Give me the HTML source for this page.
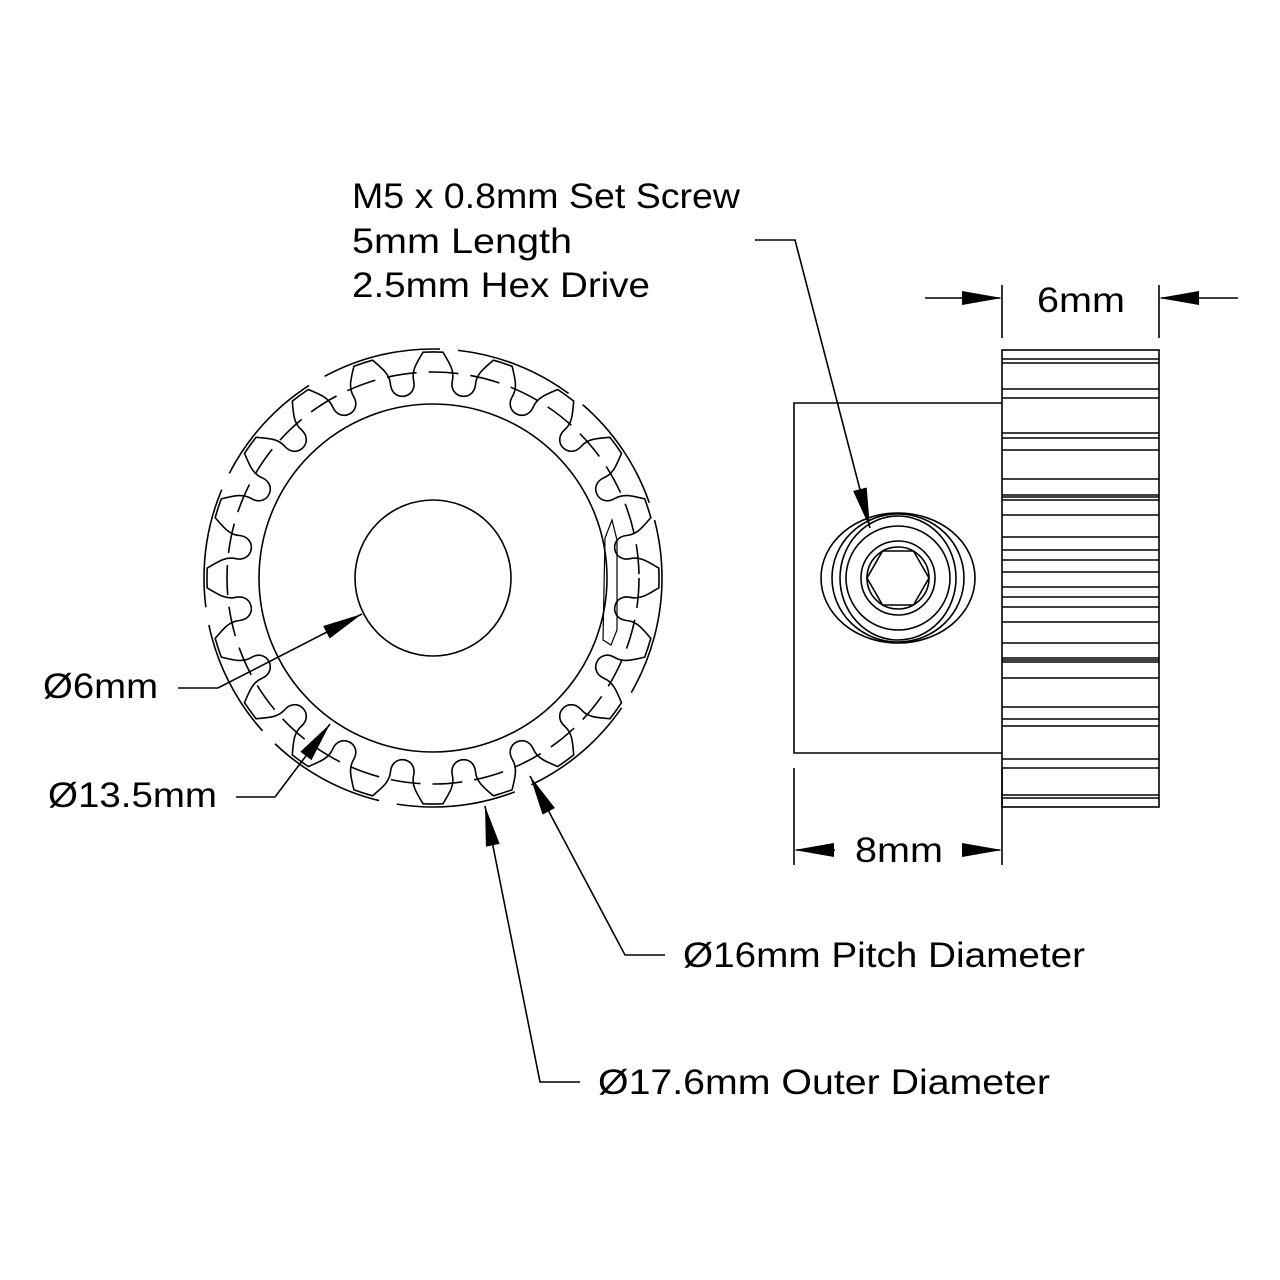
<!DOCTYPE html>
<html><head><meta charset="utf-8"><style>
html,body{margin:0;padding:0;background:#fff;}
svg{display:block;}
text{font-family:"Liberation Sans",sans-serif;font-size:35px;fill:#000;}
</style></head><body>
<svg id="s" width="1280" height="1280" viewBox="0 0 1280 1280" xmlns="http://www.w3.org/2000/svg">
<g fill="none" stroke="#000" stroke-width="1.6">
  <circle cx="433" cy="578" r="229" stroke-dasharray="120 18"/>
  <circle cx="433" cy="578" r="206" stroke-dasharray="30 12"/>
  <path id="gear" d=""/>
  <circle cx="433" cy="578" r="174"/>
  <circle cx="433" cy="578" r="78"/>
  <path d="M605 538 L612 520 L617 540 L617 630 L611 645 L603 640 Z" stroke-width="1.2"/>
  <polyline points="1002,403 794,403 794,753 1002,753"/>
  <rect x="1002" y="350" width="157" height="457"/>
  <g id="lines"></g>
  <ellipse cx="898" cy="578" rx="77" ry="65"/>
  <ellipse cx="898" cy="578" rx="66" ry="64"/>
  <ellipse cx="898" cy="578" rx="58" ry="62"/>
  <circle cx="898" cy="578" r="52"/>
  <circle cx="898" cy="578" r="37"/>
  <circle cx="898" cy="578" r="31"/>
  <polygon points="929,578 913.5,551 882.5,551 867,578 882.5,605 913.5,605"/>
  <line x1="1002" y1="285" x2="1002" y2="338"/>
  <line x1="1159" y1="285" x2="1159" y2="338"/>
  <line x1="925" y1="298" x2="1000" y2="298"/>
  <line x1="1161" y1="298" x2="1238" y2="298"/>
  <line x1="794" y1="768" x2="794" y2="865"/>
  <line x1="1002" y1="768" x2="1002" y2="865"/>
  <line x1="796" y1="850" x2="835" y2="850"/>
  <line x1="962" y1="850" x2="1000" y2="850"/>
  <polyline points="755,240 795,240 870,528"/>
  <polyline points="178,688 218,688 362,614"/>
  <polyline points="236,797 275,797 330,724"/>
  <polyline points="665,955 625,955 530,776"/>
  <polyline points="580,1082 540,1082 485,806"/>
</g>
<g fill="#000">
  <polygon points="1002,298 962,291 962,305"/>
  <polygon points="1159,298 1199,291 1199,305"/>
  <polygon points="794,850 834,843 834,857"/>
  <polygon points="1002,850 962,843 962,857"/>
  <polygon id="a1" points="0,0 -40,-7 -40,7"/>
</g>
<g>
<text x="352" y="208" textLength="388" lengthAdjust="spacingAndGlyphs">M5 x 0.8mm Set Screw</text>
<text x="352" y="253" textLength="220" lengthAdjust="spacingAndGlyphs">5mm Length</text>
<text x="352" y="297" textLength="298" lengthAdjust="spacingAndGlyphs">2.5mm Hex Drive</text>
<text x="1037" y="312" textLength="88" lengthAdjust="spacingAndGlyphs">6mm</text>
<text x="855" y="862" textLength="88" lengthAdjust="spacingAndGlyphs">8mm</text>
<text x="43" y="698" textLength="115" lengthAdjust="spacingAndGlyphs">Ø6mm</text>
<text x="48" y="807" textLength="169" lengthAdjust="spacingAndGlyphs">Ø13.5mm</text>
<text x="683" y="967" textLength="402" lengthAdjust="spacingAndGlyphs">Ø16mm Pitch Diameter</text>
<text x="598" y="1094" textLength="452" lengthAdjust="spacingAndGlyphs">Ø17.6mm Outer Diameter</text>
</g>
</svg>
<script>
(function(){
var cx=433,cy=578,d="";
function P(a,r){a=a*Math.PI/180;return (cx+r*Math.cos(a)).toFixed(1)+" "+(cy+r*Math.sin(a)).toFixed(1);}
for(var i=0;i<20;i++){
 var c=-90+i*18;
 if(i==0)d+="M"+P(c-2.5,226);
 d+=" A226 226 0 0 1 "+P(c+2.5,226);
 d+=" C"+P(c+4.5,215)+" "+P(c+6,208)+" "+P(c+5.6,198);
 d+=" C"+P(c+5,180)+" "+P(c+13,180)+" "+P(c+12.4,198);
 d+=" C"+P(c+12,208)+" "+P(c+13.5,215)+" "+P(c+15.5,226);
}
document.getElementById("gear").setAttribute("d",d+"Z");
var ys=[359,363,389,398,433,438,450,479,495,497,500,515,537,550,560,572,587,597,607,622,643,658,660,662,678,707,719,726,759,768,795,798];
var g=document.getElementById("lines"),s="";
ys.forEach(function(y){s+='<line x1="1002" y1="'+y+'" x2="1159" y2="'+y+'"/>';});
g.innerHTML=s;
var a=document.getElementById("a1");
function arrow(x1,y1,x2,y2){
 var ang=Math.atan2(y2-y1,x2-x1)*180/Math.PI;
 var n=a.cloneNode();n.removeAttribute("id");
 n.setAttribute("transform","translate("+x2+","+y2+") rotate("+ang+")");
 a.parentNode.appendChild(n);
}
arrow(795,240,870,528);
arrow(218,688,362,614);
arrow(275,797,330,724);
arrow(625,955,530,776);
arrow(540,1082,485,806);
a.parentNode.removeChild(a);
})();
</script>
</body></html>
